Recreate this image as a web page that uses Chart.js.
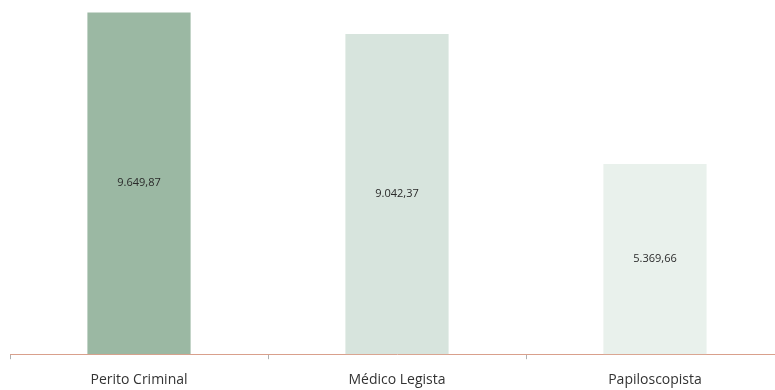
<!DOCTYPE html>
<html>
<head>
<meta charset="utf-8">
<script src="https://cdn.jsdelivr.net/npm/chart.js@4.4.0/dist/chart.umd.min.js"></script>
<style>
    html, body { margin: 0; padding: 0; background: #fff; overflow: hidden; }
    #wrap { width: 790px; height: 400px; }
</style>
</head>
<body>
<div id="wrap"><canvas id="salaryChart"></canvas></div>
<script>
const categories = ['Perito Criminal', 'Médico Legista', 'Papiloscopista'];
const salaries = [9649.87, 9042.37, 5369.66];
const barColors = ['#9bb8a3', '#d7e4dd', '#e9f1ec'];

const formatBR = (val) => val.toLocaleString('pt-BR', { minimumFractionDigits: 2, maximumFractionDigits: 2 });

// draw value labels in the middle of each bar
const centerLabels = {
    id: 'centerLabels',
    afterDatasetsDraw(chart) {
        const ctx = chart.ctx;
        const meta = chart.getDatasetMeta(0);
        ctx.save();
        ctx.font = '11px "Open Sans", sans-serif';
        ctx.fillStyle = '#2a2a2a';
        ctx.textAlign = 'center';
        ctx.textBaseline = 'middle';
        meta.data.forEach((bar, i) => {
            const mid = (bar.y + bar.base) / 2;
            ctx.fillText(formatBR(salaries[i]), bar.x, mid);
        });
        ctx.restore();
    }
};

new Chart(document.getElementById('salaryChart'), {
    type: 'bar',
    data: {
        labels: categories,
        datasets: [{
            data: salaries,
            backgroundColor: barColors,
            borderWidth: 0,
            barPercentage: 0.4,
            categoryPercentage: 1
        }]
    },
    options: {
        responsive: true,
        maintainAspectRatio: false,
        animation: false,
        layout: { padding: { left: 10, right: 6, top: 0, bottom: 0 } },
        plugins: { legend: { display: false }, tooltip: { enabled: false } },
        scales: {
            y: { display: false, min: 0, max: 10000 },
            x: {
                offset: true,
                border: { display: true, color: '#d9a08c', width: 1 },
                grid: {
                    offset: true,
                    drawOnChartArea: false,
                    drawTicks: true,
                    tickLength: 5,
                    color: '#b0b0b0'
                },
                ticks: {
                    color: '#333',
                    padding: 12,
                    font: { family: '"Open Sans", sans-serif', size: 14 }
                }
            }
        }
    },
    plugins: [centerLabels]
});
</script>
</body>
</html>
